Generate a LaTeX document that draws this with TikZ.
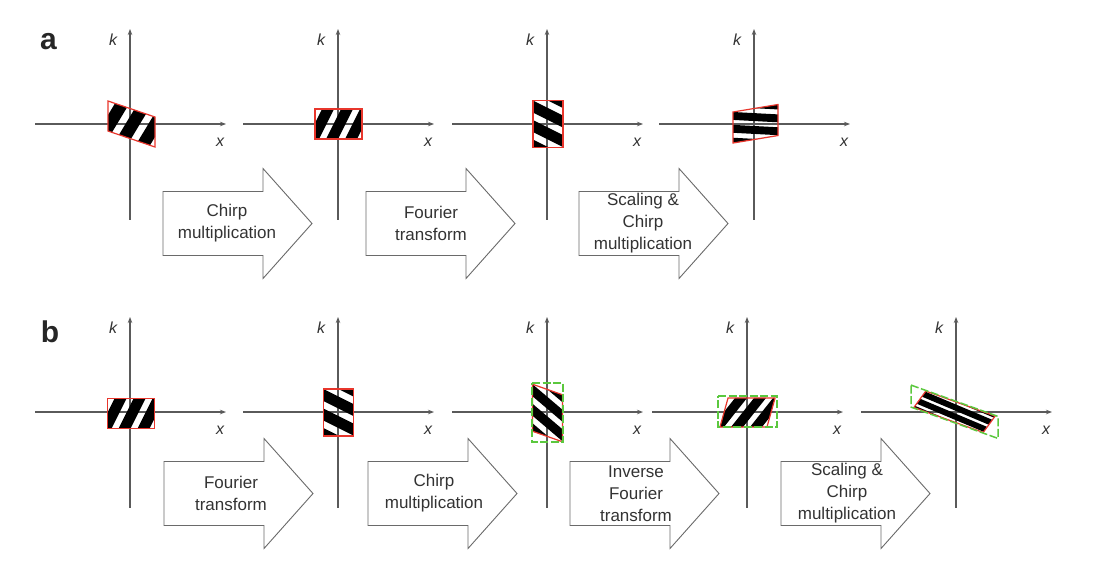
\documentclass[tikz,border=0pt]{standalone}
\usepackage{fontspec}
\setmainfont{Liberation Sans}
\usetikzlibrary{arrows.meta}
\definecolor{axisgray}{HTML}{5A5A5A}
\definecolor{txtgray}{HTML}{333333}
\definecolor{redline}{HTML}{E8362C}
\definecolor{greenline}{HTML}{5BC83E}
\definecolor{arrowgray}{HTML}{6A6A6A}
\tikzset{
  axisline/.style={draw=axisgray, line width=1.1pt, -{Stealth[length=6pt,width=4.5pt]}},
  axlabel/.style={text=txtgray, font=\fontsize{16}{16}\selectfont\itshape, inner sep=0pt},
  outlinered/.style={draw=redline, line width=1.2pt, line join=miter},
  outlinegreen/.style={draw=greenline, line width=1.5pt, dash pattern=on 8pt off 2.5pt},
  blockarrow/.style={draw=arrowgray, line width=0.9pt, fill=white, line join=miter},
  arrowtext/.style={text=txtgray, font=\fontsize{17}{22}\selectfont, align=center, inner sep=0pt},
  panellabel/.style={text=black!85, font=\fontsize{30}{30}\selectfont\bfseries, inner sep=0pt},
}
% axes of one phase-space panel: #1 name, #2 centre x, #3 centre y (pixel, y down)
\newcommand{\PhAxes}[3]{%
  \coordinate (#1-w) at ({#2-95},#3);
  \coordinate (#1-e) at ({#2+96},#3);
  \coordinate (#1-s) at (#2,{#3+95.5});
  \coordinate (#1-n) at (#2,{#3-95});
  \draw[axisline] (#1-w) -- (#1-e);
  \draw[axisline] (#1-s) -- (#1-n);
  \node[axlabel] (#1-k) at ({#2-17},{#3-84}) {k};
  \node[axlabel] (#1-x) at ({#2+90},{#3+18.5}) {x};
}
% striped horizontal rectangle, stripes "/"
\newcommand{\StripesA}{%
  \begin{scope}
    \clip (-23.5,-15) -- (23.5,-15) -- (23.5,15) -- (-23.5,15) -- cycle;
    \foreach \c in {-56,-37,-18,1,20,39,58}{
      \fill[black] ({\c-16},20) -- ({\c-4},20) -- ({\c+16},-20) -- ({\c+4},-20) -- cycle;
    }
  \end{scope}
  \draw[outlinered] (-23.5,-15) -- (23.5,-15) -- (23.5,15) -- (-23.5,15) -- cycle;
}
% same outline, stripes nearly along the long edges
\newcommand{\StripesC}{%
  \begin{scope}
    \clip (-23.5,-15) -- (23.5,-15) -- (23.5,15) -- (-23.5,15) -- cycle;
    \foreach \c in {-32.5,-19.5,-6.5,6.5,19.5,32.5}{
      \fill[black] (-30,{\c-4.5-3.75}) -- (30,{\c-4.5+3.75}) -- (30,{\c+4.5+3.75}) -- (-30,{\c+4.5-3.75}) -- cycle;
    }
  \end{scope}
  \draw[outlinered] (-23.5,-15) -- (23.5,-15) -- (23.5,15) -- (-23.5,15) -- cycle;
}
% striped vertical rectangle, stripes "\"
\newcommand{\StripesB}{%
  \begin{scope}
    \clip (-15,-23.5) -- (15,-23.5) -- (15,23.5) -- (-15,23.5) -- cycle;
    \foreach \c in {-68.5,-49,-29.5,-10,9.5,29,48.5}{
      \fill[black] (-20,{\c-16}) -- (20,{\c+4}) -- (20,{\c+16}) -- (-20,{\c-4}) -- cycle;
    }
  \end{scope}
  \draw[outlinered] (-15,-23.5) -- (15,-23.5) -- (15,23.5) -- (-15,23.5) -- cycle;
}
\newcommand{\BlockArrow}[2]{%
  \draw[blockarrow] (#1,{#2-32}) -- ({#1+100},{#2-32}) -- ({#1+100},{#2-55}) -- ({#1+149},#2)
    -- ({#1+100},{#2+55}) -- ({#1+100},{#2+32}) -- (#1,{#2+32}) -- cycle;
}
\begin{document}
\begin{tikzpicture}[x=1pt,y=1pt,yscale=-1]
\useasboundingbox[fill=white] (0,0) rectangle (1099,571);

% ---------- panel labels
\node[panellabel] (la) at (48.5,41.5) {a};
\node[panellabel] (lb) at (50,332) {b};

% ---------- row a
\PhAxes{a1}{130}{124}
\PhAxes{a2}{338}{124}
\PhAxes{a3}{547}{124}
\PhAxes{a4}{754}{124}

\BlockArrow{163}{223.5}
\BlockArrow{366}{223.5}
\BlockArrow{579}{223.5}
\node[arrowtext] (ta1) at (227,223.5) {Chirp\\multiplication};
\node[arrowtext] (ta2) at (431,223.5) {Fourier\\transform};
\node[arrowtext] (ta3) at (643,223.5) {Scaling \&\\Chirp\\multiplication};

\begin{scope}[shift={(131.5,124)}, cm={1,0.34,0,1,(0,0)}] \StripesA \end{scope}
\begin{scope}[shift={(338.5,124)}] \StripesA \end{scope}
\begin{scope}[shift={(548,124)}] \StripesB \end{scope}
\begin{scope}[shift={(755.5,123.75)}, cm={1.5,-0.25,0,0.66,(0,0)}] \StripesB \end{scope}

% ---------- row b
\PhAxes{b1}{130}{412}
\PhAxes{b2}{338}{412}
\PhAxes{b3}{547}{412}
\PhAxes{b4}{747}{412}
\PhAxes{b5}{956}{412}

\BlockArrow{164}{493.5}
\BlockArrow{368}{493.5}
\BlockArrow{570}{493.5}
\BlockArrow{781}{493.5}
\node[arrowtext] (tb1) at (231,493.5) {Fourier\\transform};
\node[arrowtext] (tb2) at (434,493.5) {Chirp\\multiplication};
\node[arrowtext] (tb3) at (636,493.5) {Inverse\\Fourier\\transform};
\node[arrowtext] (tb4) at (847,493.5) {Scaling \&\\Chirp\\multiplication};

\begin{scope}[shift={(131,413.5)}] \StripesA \end{scope}
\begin{scope}[shift={(338.5,412.5)}] \StripesB \end{scope}
\begin{scope}[shift={(547.5,413)}, cm={1,0.35,0,1,(0,0)}] \StripesB \end{scope}
\draw[outlinegreen] (532,383) -- (563,383) -- (563,442) -- (532,442) -- cycle;
\begin{scope}[shift={(747.5,412.5)}, cm={1,0,-0.27,0.97,(0,0)}] \StripesA \end{scope}
\draw[outlinegreen] (718,396) -- (777,396) -- (777,427) -- (718,427) -- cycle;
\begin{scope}[shift={(954.5,411.75)}, cm={1.475,0.531,-0.398,0.546,(0,0)}] \StripesC \end{scope}
\begin{scope}[shift={(954.5,411.75)}, cm={1.475,0.531,0,0.71,(0,0)}]
  \draw[outlinegreen] (-29.5,-15.5) -- (29.5,-15.5) -- (29.5,15.5) -- (-29.5,15.5) -- cycle;
\end{scope}
\end{tikzpicture}
\end{document}
